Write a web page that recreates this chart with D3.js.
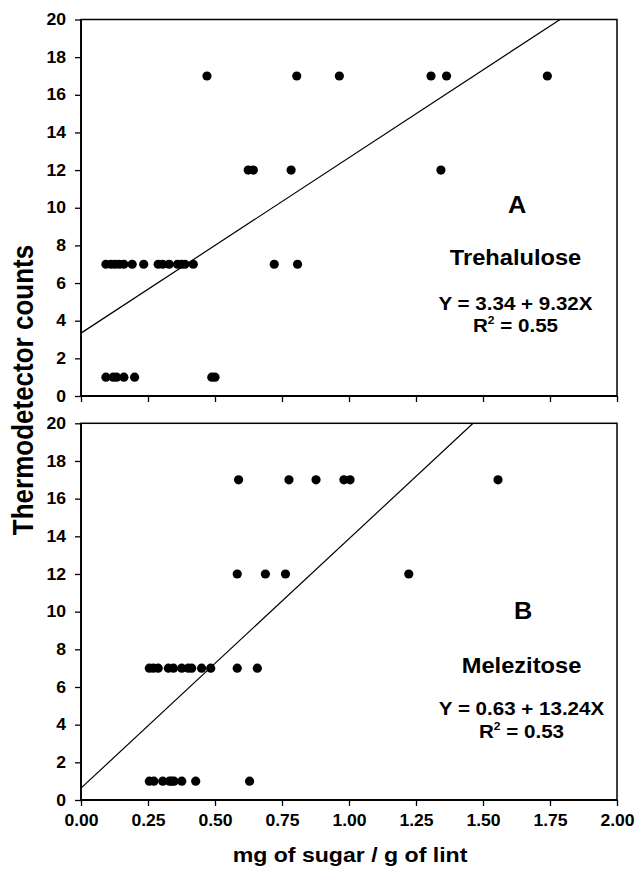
<!DOCTYPE html>
<html>
<head>
<meta charset="utf-8">
<script src="https://cdn.jsdelivr.net/npm/d3@7"></script>
<style>
  body { margin: 0; background: #fff; }
  text { font-family: "Liberation Sans", Arial, sans-serif; font-weight: bold; fill: #000; }
</style>
</head>
<body>
<div id="chart"></div>
<script>
// Datos
const xTicks = [0, 0.25, 0.5, 0.75, 1.0, 1.25, 1.5, 1.75, 2.0];
const yTicks = [0, 2, 4, 6, 8, 10, 12, 14, 16, 18, 20];

// Panel A - Trehalulose
const trehSugar = [0.47, 0.805, 0.964, 1.306, 1.364, 1.74,
                   0.624, 0.643, 0.784, 1.343,
                   0.093, 0.112, 0.127, 0.143, 0.160, 0.191, 0.234, 0.288, 0.305, 0.329, 0.36, 0.375, 0.388, 0.419, 0.721, 0.808,
                   0.093, 0.12, 0.133, 0.16, 0.20, 0.488, 0.5];
const trehCounts = [17, 17, 17, 17, 17, 17,
                    12, 12, 12, 12,
                    7, 7, 7, 7, 7, 7, 7, 7, 7, 7, 7, 7, 7, 7, 7, 7,
                    1, 1, 1, 1, 1, 1, 1];
const trehFit = { a: 3.34, b: 9.32, r2: "0.55" };

// Panel B - Melezitose
const meleSugar = [0.588, 0.776, 0.877, 0.981, 1.004, 1.556,
                   0.583, 0.688, 0.763, 1.223,
                   0.255, 0.27, 0.288, 0.326, 0.345, 0.376, 0.40, 0.413, 0.45, 0.484, 0.583, 0.658,
                   0.255, 0.272, 0.305, 0.33, 0.338, 0.347, 0.376, 0.428, 0.629];
const meleCounts = [17, 17, 17, 17, 17, 17,
                    12, 12, 12, 12,
                    7, 7, 7, 7, 7, 7, 7, 7, 7, 7, 7, 7,
                    1, 1, 1, 1, 1, 1, 1, 1, 1];
const meleFit = { a: 0.63, b: 13.24, r2: "0.53" };

// Configuración del gráfico
const W = 635, H = 871;
const left = 81, right = 617;
const sx = 1.1; // el texto original está algo ensanchado

const svg = d3.select("#chart").append("svg")
    .attr("width", W)
    .attr("height", H);

const x = d3.scaleLinear().domain([0, 2]).range([left, right]);

// texto centrado y ensanchado horizontalmente
function label(g, cx, cy, size, txt) {
    return g.append("text")
        .attr("transform", `translate(${cx},${cy}) scale(${sx},1)`)
        .attr("text-anchor", "middle")
        .style("font-size", size + "px")
        .text(txt);
}

const panels = [
    { letter: "A", name: "Trehalulose", sugar: trehSugar, counts: trehCounts, fit: trehFit,
      top: 19.5, bottom: 396, labels: false, tx: 515.5, letterY: 213, nameY: 265, eqY: 310, r2Y: 332 },
    { letter: "B", name: "Melezitose", sugar: meleSugar, counts: meleCounts, fit: meleFit,
      top: 423.3, bottom: 800, labels: true, tx: 521.5, letterY: 619, nameY: 673, eqY: 715, r2Y: 738 }
];

panels.forEach(p => {
    const y = d3.scaleLinear().domain([0, 20]).range([p.bottom, p.top]);
    const g = svg.append("g");

    // Eje Y
    const yAxis = g.append("g")
        .attr("transform", `translate(${left},0)`)
        .call(d3.axisLeft(y).tickValues(yTicks).tickFormat(d3.format("d")).tickSize(6).tickPadding(8));

    // Eje X
    const xAxis = g.append("g")
        .attr("transform", `translate(0,${p.bottom})`)
        .call(d3.axisBottom(x).tickValues(xTicks).tickFormat(d3.format(".2f")).tickSize(6).tickPadding(9));
    if (!p.labels) xAxis.selectAll(".tick text").remove();

    [yAxis, xAxis].forEach(ax => {
        ax.select(".domain").remove();
        ax.selectAll(".tick line").attr("stroke-width", 1.3);
        ax.selectAll(".tick text")
            .style("font-size", "16px")
            .style("font-family", "'Liberation Sans', Arial, sans-serif")
            .style("font-weight", "bold")
            .attr("transform", `scale(${sx},1)`);
    });
    yAxis.selectAll(".tick text").attr("x", -15 / sx);

    // Marco
    g.append("rect")
        .attr("x", left).attr("y", p.top)
        .attr("width", right - left).attr("height", p.bottom - p.top)
        .attr("fill", "none").attr("stroke", "#000").attr("stroke-width", 1.5);
    g.append("line").attr("x1", left).attr("x2", left).attr("y1", p.top).attr("y2", p.bottom)
        .attr("stroke", "#000").attr("stroke-width", 1.8);
    g.append("line").attr("x1", left).attr("x2", right).attr("y1", p.bottom).attr("y2", p.bottom)
        .attr("stroke", "#000").attr("stroke-width", 1.8);

    // Recta de regresión (recortada al área del gráfico)
    const xEnd = Math.min(2, (20 - p.fit.a) / p.fit.b);
    g.append("line")
        .attr("x1", x(0)).attr("y1", y(p.fit.a))
        .attr("x2", x(xEnd)).attr("y2", y(p.fit.a + p.fit.b * xEnd))
        .attr("stroke", "#000").attr("stroke-width", 1.2);

    // Puntos
    g.selectAll(".dot")
        .data(p.sugar.map((s, k) => ({ s: s, c: p.counts[k] })))
        .enter().append("circle")
        .attr("class", "dot")
        .attr("cx", d => x(d.s))
        .attr("cy", d => y(d.c))
        .attr("r", 4.6)
        .attr("fill", "#000");

    // Textos
    label(g, p.tx + 1.5, p.letterY, 23, p.letter);
    label(g, p.tx, p.nameY, 21.5, p.name);
    label(g, p.tx, p.eqY, 18.7, `Y = ${p.fit.a.toFixed(2)} + ${p.fit.b.toFixed(2)}X`);
    const r2 = label(g, p.tx, p.r2Y, 18.7, "");
    r2.append("tspan").text("R");
    r2.append("tspan").attr("dy", -8).style("font-size", "11px").text("2");
    r2.append("tspan").attr("dy", 8).text(` = ${p.fit.r2}`);
});

// Títulos de ejes
svg.append("text")
    .attr("transform", `translate(33,390) scale(${sx},1) rotate(-90)`)
    .attr("text-anchor", "middle")
    .style("font-size", "26px")
    .text("Thermodetector counts");

label(svg, 350, 862, 21, "mg of sugar / g of lint");
</script>
</body>
</html>
